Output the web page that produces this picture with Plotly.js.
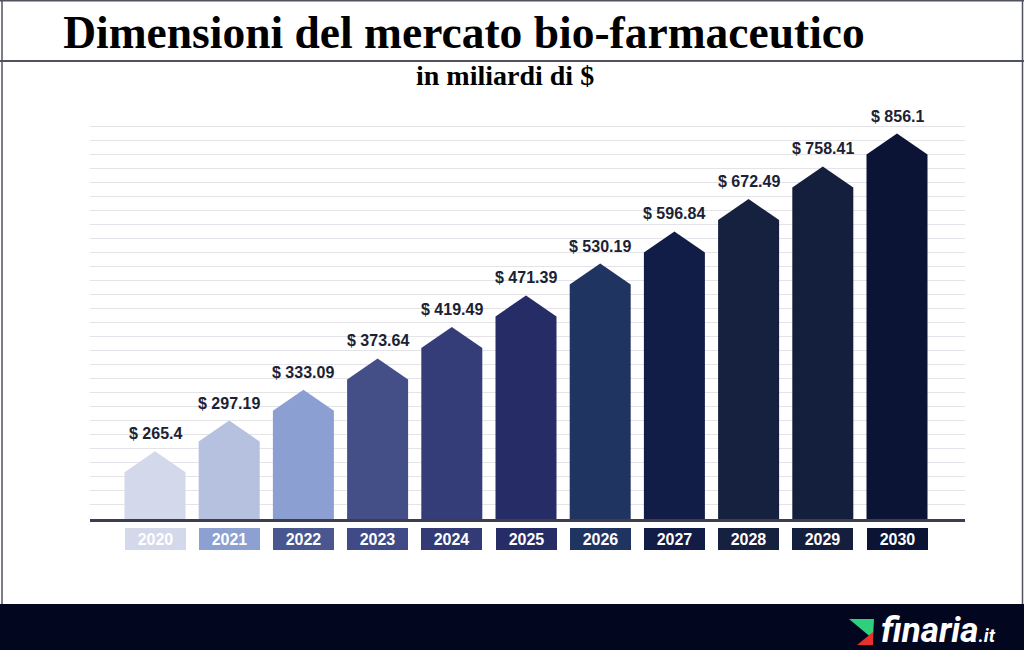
<!DOCTYPE html>
<html>
<head>
<meta charset="utf-8">
<script src="https://cdn.plot.ly/plotly-3.0.1.min.js"></script>
<style>html,body{margin:0;padding:0;background:#fff;}#chart{width:1024px;height:650px;}</style>
</head>
<body>
<div id="chart"></div>
<script>
// ---- data ----
const years = ['2020','2021','2022','2023','2024','2025','2026','2027','2028','2029','2030'];
const values = [265.4, 297.19, 333.09, 373.64, 419.49, 471.39, 530.19, 596.84, 672.49, 758.41, 856.1];
const valueLabels = ['$ 265.4','$ 297.19','$ 333.09','$ 373.64','$ 419.49','$ 471.39','$ 530.19','$ 596.84','$ 672.49','$ 758.41','$ 856.1'];
const titleText = 'Dimensioni del mercato bio-farmaceutico';
const subtitleText = 'in miliardi di $';

// ---- styles ----
const barColors = ['#d3d8ea','#b6c1e0','#8c9fd2','#444f88','#343d78','#262d66','#1f3460','#111c47','#16213f','#141f3d','#0b1434'];
const yearBoxColors = ['#d3d8ea','#8da0d2','#4a5690','#3f4a86','#323b76','#262d66','#1f3460','#111c47','#16213f','#141f3d','#0b1434'];

const W = 1024, H = 650;
const PX = x => x / W;
const PY = y => 1 - y / H;

// axis geometry (pixels)
const plotLeft = 90, plotRight = 965, baseY = 519, gridTop = 126, barTop = 90;
const gridStep = (baseY - gridTop) / 28;
const firstCenter = 155, step = 74.2;
const xr0 = (plotLeft - firstCenter) / step;
const xr1 = xr0 + (plotRight - plotLeft) / step;
// log axis for bars (log10 units)
const y2minLog = 2.3154, pxPerDecade = 624.5;
const y2maxLog = y2minLog + (baseY - barTop) / pxPerDecade;
const baseVal = Math.pow(10, y2minLog);
const roofFactor = Math.pow(10, 21 / pxPerDecade);
const halfW = 30.5 / step;

const traces = [];
// empty trace to create the gridline subplot
traces.push({type:'scatter', x:[], y:[], xaxis:'x', yaxis:'y', hoverinfo:'skip', showlegend:false});
values.forEach((v, i) => {
  traces.push({
    type:'scatter', mode:'lines', xaxis:'x', yaxis:'y2',
    x:[i - halfW, i - halfW, i, i + halfW, i + halfW, i - halfW],
    y:[baseVal, v / roofFactor, v, v / roofFactor, baseVal, baseVal],
    fill:'toself', fillcolor: barColors[i],
    line:{width:0, color: barColors[i]},
    hoverinfo:'skip', showlegend:false
  });
});

const labelFont = 'Liberation Sans, Arial, sans-serif';
const annotations = [];
values.forEach((v, i) => {
  annotations.push({
    xref:'x', yref:'y2', x:i, y:Math.log10(v), text: valueLabels[i], showarrow:false,
    xanchor:'center', yanchor:'bottom', yshift:8, borderpad:0,
    font:{family: labelFont, size:16, color:'#1b2233', weight:'bold'}
  });
  annotations.push({
    xref:'x', yref:'paper', x:i, y:PY(538.5), text: years[i], showarrow:false,
    xanchor:'center', yanchor:'middle', width:61, height:22, borderpad:0, borderwidth:0,
    bgcolor: yearBoxColors[i],
    font:{family: labelFont, size:16, color:'#ffffff', weight:'bold'}
  });
});
annotations.push({
  xref:'paper', yref:'paper', x:PX(505), y:PY(75), text: subtitleText, showarrow:false,
  xanchor:'center', yanchor:'middle',
  font:{family:'Liberation Serif, Times New Roman, serif', size:28, color:'#000', weight:'bold'}
});
annotations.push({
  xref:'paper', yref:'paper', x:PX(879), y:PY(630), showarrow:false,
  text:'finaria<span style="font-size:19px">.it</span>',
  xanchor:'left', yanchor:'middle',
  font:{family:'Roboto, Inter, sans-serif', size:35, color:'#ffffff', weight:'bold', style:'italic'}
});

const frameColor = '#50525e';
const shapes = [
  {type:'rect', xref:'paper', yref:'paper', x0:PX(0), x1:PX(1024), y0:PY(650), y1:PY(604), fillcolor:'#03061f', line:{width:0}, layer:'below'},
  {type:'line', xref:'paper', yref:'paper', x0:PX(0), x1:PX(1024), y0:PY(0.8), y1:PY(0.8), line:{color:frameColor, width:1.6}},
  {type:'line', xref:'paper', yref:'paper', x0:PX(0), x1:PX(1024), y0:PY(61), y1:PY(61), line:{color:frameColor, width:2}},
  {type:'line', xref:'paper', yref:'paper', x0:PX(2), x1:PX(2), y0:PY(0), y1:PY(604), line:{color:frameColor, width:1.5}},
  {type:'line', xref:'paper', yref:'paper', x0:PX(1022.5), x1:PX(1022.5), y0:PY(0), y1:PY(604), line:{color:frameColor, width:1.5}},
  {type:'path', xref:'paper', yref:'paper',
   path:`M${PX(849)},${PY(619)} L${PX(874)},${PY(619)} L${PX(873)},${PY(639)} Z`,
   fillcolor:'#2fcf7c', line:{width:0}},
  {type:'path', xref:'paper', yref:'paper',
   path:`M${PX(857)},${PY(645)} L${PX(873)},${PY(645)} L${PX(873)},${PY(632)} Z`,
   fillcolor:'#e8302c', line:{width:0}}
];

const layout = {
  width:W, height:H, autosize:false,
  margin:{l:0, r:0, t:0, b:0, pad:0},
  paper_bgcolor:'#ffffff', plot_bgcolor:'rgba(0,0,0,0)',
  showlegend:false,
  title:{text: titleText, x:PX(464), xanchor:'center', y:PY(32), yanchor:'middle',
         font:{family:'Liberation Serif, Times New Roman, serif', size:45.5, color:'#000', weight:'bold'}},
  xaxis:{domain:[PX(plotLeft), PX(plotRight)], range:[xr0, xr1], anchor:'y',
         showgrid:false, zeroline:false, showticklabels:false, ticks:'',
         showline:true, linecolor:'#3b3e50', linewidth:3, fixedrange:true},
  yaxis:{domain:[PY(baseY), PY(gridTop - 3)], range:[0, 28 + 3 / gridStep], dtick:1, tick0:0, anchor:'x',
         showgrid:true, gridcolor:'#e4e4e8', gridwidth:1, zeroline:false,
         showticklabels:false, ticks:'', showline:false, fixedrange:true},
  yaxis2:{type:'log', domain:[PY(baseY), PY(barTop)], range:[y2minLog, y2maxLog], anchor:'x',
          visible:false, showgrid:false, zeroline:false, fixedrange:true},
  annotations: annotations,
  shapes: shapes
};

Plotly.newPlot('chart', traces, layout, {displayModeBar:false, staticPlot:true});
</script>
</body>
</html>
